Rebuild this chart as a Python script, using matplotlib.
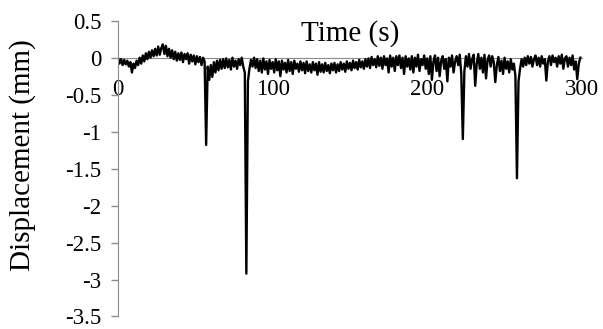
import matplotlib.pyplot as plt
import numpy as np

plt.rcParams['font.family'] = ['Liberation Serif', 'DejaVu Serif']
plt.rcParams['axes.unicode_minus'] = False

# displacement (mm), one reading per second from t = 0 to 299 s
disp = [
    0.0, -0.08, -0.02, -0.1, -0.03, -0.09, -0.04, -0.12, -0.06, -0.2,
    -0.08, -0.14, -0.04, -0.1, 0.0, -0.08, 0.03, -0.05, 0.06, -0.02,
    0.08, 0.0, 0.1, 0.02, 0.12, 0.03, 0.15, 0.04, 0.13, 0.18,
    0.05, 0.16, 0.02, 0.12, 0.0, 0.1, -0.02, 0.08, -0.04, 0.06,
    -0.03, 0.07, -0.06, 0.05, -0.02, 0.06, -0.08, 0.04, -0.05, 0.03,
    -0.09, 0.02, -0.06, 0.01, -0.1, 0.0, -0.05, -1.18, -0.12, -0.3,
    -0.1, -0.26, -0.06, -0.2, -0.04, -0.17, -0.03, -0.15, -0.02, -0.14,
    -0.01, -0.13, -0.03, -0.16, 0.0, -0.12, -0.04, -0.15, -0.02, -0.1,
    0.0, -0.12, -0.2, -2.92, -0.32, -0.15, -0.03, -0.12, 0.0, -0.14,
    -0.02, -0.18, -0.04, -0.2, -0.01, -0.16, -0.05, -0.22, -0.03, -0.15,
    -0.06, -0.2, -0.02, -0.17, -0.05, -0.25, -0.04, -0.16, -0.07, -0.2,
    -0.03, -0.18, -0.06, -0.22, -0.04, -0.15, -0.08, -0.19, -0.05, -0.17,
    -0.07, -0.21, -0.05, -0.18, -0.09, -0.2, -0.06, -0.17, -0.08, -0.23,
    -0.06, -0.19, -0.09, -0.2, -0.07, -0.18, -0.1, -0.21, -0.08, -0.17,
    -0.07, -0.2, -0.09, -0.18, -0.06, -0.16, -0.08, -0.19, -0.05, -0.15,
    -0.07, -0.17, -0.04, -0.14, -0.06, -0.16, -0.03, -0.13, -0.05, -0.15,
    -0.02, -0.12, -0.01, -0.14, 0.01, -0.1, -0.02, -0.13, 0.02, -0.11,
    0.0, -0.15, 0.02, -0.1, -0.01, -0.2, 0.03, -0.12, 0.0, -0.18,
    0.02, -0.1, 0.03, -0.14, 0.0, -0.22, 0.02, -0.12, -0.01, -0.16,
    0.02, -0.2, 0.0, -0.12, 0.04, -0.18, -0.02, -0.1, 0.03, -0.15,
    -0.01, -0.22, 0.02, -0.3, -0.05, 0.03, -0.18, 0.0, -0.25, -0.04,
    0.02, -0.15, -0.02, -0.32, 0.0, -0.12, 0.03, -0.2, -0.05, 0.02,
    -0.1, 0.04, -0.22, -1.1, -0.18, 0.02, -0.12, 0.05, -0.15, -0.02,
    0.04, -0.38, -0.08, 0.05, -0.15, 0.0, -0.2, 0.04, -0.28, -0.03,
    0.03, -0.12, 0.02, -0.06, -0.33, -0.1, 0.01, -0.18, -0.04, -0.22,
    0.0, -0.15, -0.05, -0.2, -0.02, -0.16, -0.08, -0.25, -1.63, -0.32,
    -0.15, -0.02, -0.12, 0.0, -0.1, 0.02, -0.08, 0.01, -0.12, -0.02,
    0.03, -0.1, 0.0, -0.12, 0.02, -0.08, -0.02, -0.31, -0.05, 0.02,
    -0.1, 0.03, -0.06, 0.0, -0.12, 0.02, -0.08, 0.04, -0.15, -0.01,
    0.02, -0.12, 0.0, -0.1, 0.03, -0.16, -0.05, -0.29, -0.08, 0.0,
]
time = np.arange(len(disp))

yticks = [0.5, 0, -0.5, -1, -1.5, -2, -2.5, -3, -3.5]
ytick_labels = ['0.5', '0', '-0.5', '-1', '-1.5', '-2', '-2.5', '-3', '-3.5']
xticks = [0, 100, 200, 300]

fig = plt.figure(figsize=(6.03, 3.29), dpi=100)
ax = fig.add_axes([0.1957, 0.038, 0.7693, 0.899])

ax.plot(time, disp, color='black', lw=1.7)

ax.set_xlim(0, 300)
ax.set_ylim(-3.5, 0.5)
ax.set_yticks(yticks)
ax.set_yticklabels(ytick_labels)
ax.set_xticks(xticks)
ax.set_xticklabels([str(t) for t in xticks])

for s in ['top', 'right']:
    ax.spines[s].set_visible(False)
ax.spines['bottom'].set_position(('data', 0))
ax.spines['bottom'].set_color('#8c8c8c')
ax.spines['left'].set_color('#8c8c8c')
ax.spines['bottom'].set_zorder(0)

ax.tick_params(axis='x', length=0, pad=15, labelsize=16.5)
ax.tick_params(axis='y', length=5, width=1, color='#8c8c8c', pad=7, labelsize=16.5)

ax.text(150, 0.33, 'Time (s)', ha='center', va='center', fontsize=21)
fig.text(0.038, 0.529, 'Displacement (mm)', rotation=90, ha='center', va='center', fontsize=21)

fig.savefig('out.png', dpi=100)
